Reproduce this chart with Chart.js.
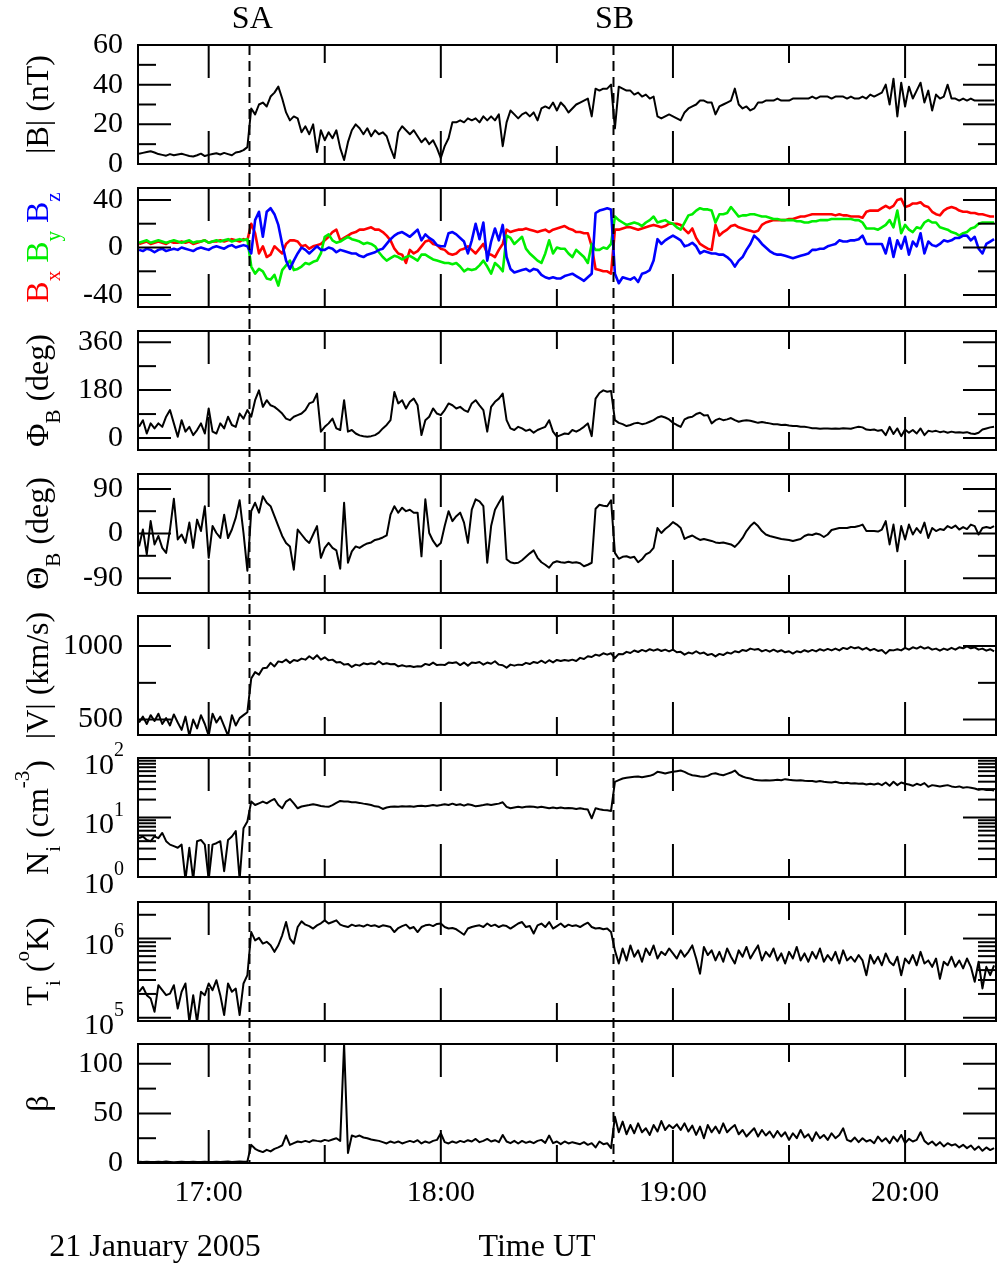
<!DOCTYPE html>
<html>
<head>
<meta charset="utf-8">
<script src="https://cdn.jsdelivr.net/npm/chart.js@4.4.0/dist/chart.umd.min.js"></script>
<style>
  html, body { margin: 0; padding: 0; background: #fff; }
  #wrap { position: relative; width: 997px; height: 1268px; overflow: hidden; background: #fff; }
  #wrap canvas { position: absolute; left: 0; }
</style>
</head>
<body>
<div id="wrap"></div>
<script>
// one sample per minute, first sample at 16:42 UT (minutes after midnight)
const firstMinute = 16 * 60 + 42;
const axisStart = 1001.73;
const axisEnd = 1223.5;
const shockA = 1030.5;   // SA, 17:10
const shockB = 1124.4;   // SB, 18:44
const hourTicks = [1020, 1080, 1140, 1200];
const halfHourTicks = [1050, 1110, 1170];

// |B| (nT)
const bMagnitude = [
  5.2, 5.6, 6.0, 6.4, 5.8, 5.0, 4.6, 4.2, 5.0, 4.4,
  4.8, 5.2, 4.6, 4.0, 3.8, 4.4, 5.2, 4.0, 4.6, 5.0,
  5.4, 4.8, 5.6, 5.0, 4.4, 5.8, 6.2, 7.0, 8.5, 28,
  25, 30, 31, 29, 34, 36, 39, 33, 26, 22,
  24, 23, 16, 19, 15, 20, 6, 17, 12, 16,
  13, 17, 8, 2, 11, 17, 20, 18, 15, 18,
  14, 17, 15, 16, 14, 8, 3, 16, 19, 17,
  15, 17, 14, 11, 13, 10, 12, 8, 3, 9,
  13, 21, 21, 22, 21, 23, 22, 23, 21, 24,
  22, 24, 22, 25, 9, 21, 27, 25, 23, 25,
  26, 24, 26, 22, 28, 29, 28, 31, 27, 31,
  29, 26, 28, 30, 31, 32, 33, 24, 38, 37,
  38, 38, 40, 18, 39, 38, 37, 37, 35, 36,
  34, 35, 33, 34, 24, 23, 24, 25, 24, 23,
  22, 26, 28, 29, 30, 32, 32, 31, 31, 25,
  29, 30, 31, 32, 38, 30, 28, 29, 27, 28,
  31, 31, 32, 32, 32, 33, 32, 32, 32, 33,
  33, 33, 33, 33, 34, 33, 34, 34, 34, 33,
  34, 34, 34, 33, 34, 33, 33, 34, 33, 35,
  34, 35, 36, 40, 30, 43, 24, 41, 29, 39,
  33, 37, 41, 31, 37, 27, 35, 33, 34, 40,
  33, 33, 32, 33, 32, 33, 32, 32, 32, 32,
  32, 32
];

// Bx, By, Bz (nT)
const bX = [
  3, 4, 5, 3, 4, 5, 4, 3, 5, 4,
  4, 5, 4, 5, 3, 4, 5, 6, 4, 5,
  5, 6, 5, 6, 7, 6, 5, 7, 6, 20,
  12, -5, 1, -8, -6, 1, -2, -5, 3, 6,
  6, 5, 1, 2, -1, 1, 2, 3, 6, 9,
  13, 15, 6, 8, 10, 12, 13, 15, 15, 16,
  17, 15, 15, 13, 10, 6, -1, -5, -6, -13,
  -2, -5, -3, 1, 5, 6, 3, 2, -1, -2,
  -5, -6, -5, -2, -1, 1, -2, -5, -1, 3,
  -5, -6, -8, -2, 3, 15, 13, 14, 15, 15,
  16, 15, 14, 13, 14, 15, 13, 15, 16, 17,
  18, 16, 15, 13, 13, 12, 12, 1, -18, -19,
  -20, -20, -22, 15, 15, 16, 17, 17, 16, 15,
  16, 17, 18, 19, 18, 17, 18, 20, 20, 20,
  19, 15, 12, 16, 8, 3, 1, -1, -2, 19,
  10, 13, 15, 18, 19, 17, 16, 15, 14, 13,
  14, 19, 21, 22, 23, 23, 23, 23, 24, 24,
  25, 26, 26, 27, 28, 28, 28, 28, 28, 28,
  27, 28, 27, 27, 26, 26, 26, 25, 30, 31,
  31, 31, 33, 35, 33, 35, 40, 41, 34, 35,
  37, 37, 38, 35, 34, 30, 28, 27, 31, 33,
  34, 33, 31, 30, 30, 29, 29, 28, 28, 27,
  26, 26
];
const bY = [
  4, 5, 6, 4, 5, 6, 5, 4, 5, 6,
  5, 4, 5, 6, 4, 5, 5, 6, 4, 5,
  6, 5, 6, 7, 5, 6, 7, 6, 7, -16,
  -22, -18, -20, -26, -27, -23, -32, -19, -15, -11,
  -19, -18, -16, -13, -14, -12, -11, -5, 9, 11,
  6, 4, 5, 7, 9, 7, 6, 5, 3, 4,
  3, 1, -4, -8, -11, -9, -7, -8, -10, -8,
  -7, -9, -11, -6, -6, -8, -10, -11, -12, -13,
  -13, -14, -13, -16, -20, -18, -19, -18, -15, -11,
  -16, -22, -13, -16, -20, 10, 8, 3, 6, 9,
  -1, -5, -8, -11, -13, -5, 6, -5, 0, -1,
  -1, -5, -8, -2, -5, -8, -13, 3, -2, -2,
  0, -1, 3, 26, 23, 21, 19, 20, 21, 20,
  18, 21, 23, 26, 21, 22, 23, 21, 20, 17,
  15, 21, 27, 28, 31, 33, 32, 32, 31, 21,
  28, 28, 29, 34, 30, 26, 27, 27, 28, 28,
  27, 26, 26, 25, 24, 24, 23, 23, 23, 23,
  22, 22, 21, 21, 22, 22, 23, 23, 23, 24,
  24, 24, 24, 24, 24, 23, 23, 21, 16, 16,
  16, 15, 17, 19, 23, 17, 31, 12, 19, 15,
  13, 17, 16, 21, 23, 21, 21, 17, 16, 15,
  13, 12, 10, 12, 13, 16, 17, 20, 21, 21,
  21, 21
];
const bZ = [
  -2, -3, -1, -2, -4, -2, -1, -3, -2, -1,
  -2, 0, -1, -2, -3, -1, 0, -1, -2, 0,
  1, 0, -1, 1, 2, 0, 1, 2, 1, -5,
  23, 30, 9, 30, 33, 28, 19, 3, -11, -18,
  -11, -5, 0, -2, -5, -2, 1, -2, -2, 0,
  -1, -4, -2, -3, -4, -5, -5, -7, -8, -6,
  -5, -4, -2, -1, 3, 7, 10, 12, 13, 11,
  9, 12, 15, 6, 11, 8, 6, 2, 1, 1,
  12, 13, 11, 8, 5, -5, 6, 20, 7, 21,
  -11, 5, 16, 6, 19, -8, -18, -21, -20, -19,
  -18, -20, -18, -19, -23, -25, -26, -25, -26, -26,
  -24, -23, -22, -24, -26, -28, -25, -22, 29, 31,
  32, 33, 32, -22, -30, -25, -26, -27, -25, -29,
  -22, -21, -19, -11, 7, 3, 6, 8, 10, 8,
  6, 1, 2, 4, 1, -5, -3, -4, -5, -5,
  -6, -6, -8, -11, -16, -11, -8, -2, 3, 10,
  7, 3, 0, -3, -5, -6, -6, -7, -8, -9,
  -8, -7, -6, -5, -2, -2, -1, -1, 1, 2,
  3, 6, 5, 5, 6, 6, 7, 10, 3, 3,
  3, 3, 3, -5, 8, -8, 6, -1, 9, -6,
  5, 1, 12, -5, 5, 2, 1, 3, 6, 5,
  6, 8, 8, 10, 10, 6, 9, -1, -5, 3,
  5, 7
];

// field azimuth and elevation (deg)
const phiB = [
  42, 67, 17, 55, 36, 55, 42, 80, 105, 55,
  5, 67, 24, 42, 11, 30, 55, 17, 111, 24,
  17, 55, 36, 80, 49, 42, 92, 73, 105, 80,
  142, 179, 117, 142, 123, 117, 105, 92, 73, 67,
  80, 86, 92, 105, 130, 136, 167, 24, 42, 55,
  73, 36, 30, 142, 24, 30, 17, 10, 7, 5,
  7, 11, 20, 36, 49, 67, 173, 130, 142, 111,
  136, 148, 123, 11, 67, 80, 111, 92, 86, 105,
  130, 123, 111, 117, 105, 98, 130, 142, 123, 105,
  24, 117, 136, 148, 167, 67, 36, 30, 42, 36,
  27, 32, 20, 30, 36, 42, 67, 24, 5, 11,
  17, 15, 30, 24, 32, 42, 55, 7, 148, 169,
  179, 174, 177, 67, 57, 52, 45, 49, 55, 57,
  52, 55, 61, 67, 77, 82, 77, 70, 57, 49,
  42, 70, 77, 80, 90, 95, 85, 86, 55, 67,
  73, 67, 70, 75, 67, 61, 65, 67, 65, 61,
  57, 60, 57, 55, 52, 52, 49, 50, 47, 45,
  45, 42, 42, 40, 37, 37, 35, 36, 36, 35,
  36, 35, 37, 36, 35, 39, 42, 40, 32, 30,
  32, 27, 30, 11, 42, 15, 36, 7, 32, 20,
  30, 17, 36, 11, 27, 24, 27, 22, 25, 20,
  24, 21, 22, 20, 22, 17, 15, 20, 32, 36,
  40, 42
];
const thetaB = [
  -26, 8, -42, 25, -22, -5, -29, -39, 8, 70,
  -12, -2, -19, 22, -29, 28, 5, 55, -49, 15,
  1, -9, 38, -9, 8, 32, 67, 1, -75, 45,
  62, 42, 75, 62, 55, 35, 15, -5, -19, -26,
  -73, 8, -2, -12, -19, -2, 15, -49, -29, -19,
  -29, -34, -71, 62, -59, -36, -26, -29, -24, -20,
  -18, -13, -11, -8, -4, 38, 55, 42, 52, 45,
  48, 42, 42, -46, 69, 1, -15, -26, -19, 15,
  45, 25, 35, 42, 22, -19, 48, 69, 65, 55,
  -59, 15, 48, 62, 75, -52, -58, -60, -59, -54,
  -47, -40, -34, -49, -58, -63, -69, -59, -56, -58,
  -59, -57, -59, -58, -60, -66, -63, -59, 50, 58,
  56, 55, 67, -39, -51, -47, -46, -49, -47, -58,
  -52, -42, -38, -29, 11, 1, 9, 15, 23, 18,
  11, -11, -7, -4, -9, -13, -11, -13, -15, -18,
  -19, -18, -20, -22, -27, -19, -9, 5, 15, 22,
  15, 5, -2, -5, -7, -9, -11, -12, -13, -15,
  -13, -11, -5, -2, -3, 0, -2, -7, -2, 7,
  9, 11, 11, 11, 13, 13, 15, 18, 5, 5,
  5, 4, 8, 25, -22, 18, -36, 15, -12, 18,
  -2, 11, 1, 22, -9, 11, 5, 9, 7, 15,
  11, 16, 8, 13, 9, 18, 15, -2, 11, 13,
  11, 15
];

// |V| (km/s)
const speed = [
  480, 520, 470, 530, 490, 540, 470, 510, 460, 535,
  480, 430, 520, 390, 500, 440, 530, 470, 390, 540,
  480, 520, 455, 390, 530, 460, 510, 530, 550, 780,
  823, 806, 850, 852, 886, 862, 896, 890, 908, 886,
  906, 899, 915, 908, 931, 912, 938, 908, 924, 903,
  908, 889, 892, 874, 879, 858, 874, 867, 883, 876,
  883, 876, 897, 876, 883, 876, 879, 862, 870, 862,
  865, 858, 863, 862, 879, 871, 888, 871, 874, 871,
  888, 885, 890, 871, 888, 867, 888, 885, 892, 874,
  888, 880, 897, 874, 870, 853, 874, 867, 874, 871,
  886, 878, 892, 885, 901, 885, 904, 889, 906, 899,
  906, 901, 908, 899, 920, 912, 931, 926, 942, 935,
  951, 942, 951, 919, 947, 944, 961, 953, 970, 960,
  974, 964, 979, 969, 979, 967, 976, 964, 976, 958,
  961, 942, 956, 949, 965, 949, 956, 939, 947, 930,
  947, 939, 956, 949, 965, 958, 974, 967, 983, 976,
  981, 964, 974, 962, 976, 962, 972, 958, 965, 949,
  965, 958, 972, 962, 974, 964, 979, 969, 981, 971,
  983, 971, 988, 980, 995, 985, 992, 976, 988, 971,
  981, 967, 974, 949, 974, 971, 979, 971, 988, 976,
  992, 983, 997, 983, 992, 976, 983, 969, 983, 974,
  988, 976, 992, 985, 999, 985, 992, 976, 983, 969,
  979, 964
];

// Ni (cm^-3)
const density = [
  4.5, 4.8, 4.2, 4.0, 4.8, 4.5, 5.5, 4.0, 3.5, 3.3,
  3.1, 3.5, 0.9, 3.1, 0.9, 4.0, 4.2, 3.5, 0.9, 3.5,
  3.7, 4.0, 1.25, 4.2, 4.8, 5.9, 0.9, 6.6, 8.6, 18.5,
  16.2, 17.3, 18.5, 17.3, 19, 20.5, 16.2, 14.3, 18.5, 20.5,
  17.3, 14.3, 15.3, 15.8, 16.2, 16.7, 16.2, 15.6, 15.3, 15.1,
  16.2, 17.6, 19, 18.5, 18.5, 18, 18, 17.6, 17.1, 16.7,
  16.2, 15.4, 15.1, 13.9, 14.7, 15.1, 15.3, 15.1, 15.4, 15.3,
  15.4, 15.1, 15.6, 15.8, 15.4, 15.8, 16.2, 15.8, 16.2, 16.7,
  16.2, 17.1, 16.2, 16.7, 15.8, 16.7, 16.2, 15.4, 15.8, 16.2,
  16.7, 16.2, 16.7, 17.1, 18, 15.1, 14.3, 14.7, 15.1, 14.7,
  15.1, 15.3, 15.1, 14.7, 15.1, 14.7, 14.3, 14.7, 14.3, 14.7,
  14.3, 14.5, 14.3, 13.9, 14.3, 13.9, 13.6, 9.7, 14.3, 13.8,
  13.4, 13.2, 12.9, 39.8, 42.4, 45.2, 46.4, 47.6, 48.3, 48.9,
  47.6, 48.9, 50.1, 52.7, 58.5, 57, 54.8, 57, 58.5, 60,
  61.6, 58.5, 54.1, 51.4, 50.1, 48.9, 48.3, 50.1, 54.1, 55.4,
  52.7, 51.4, 54.1, 57, 61.6, 52.7, 48.9, 46.4, 45.2, 43,
  42.4, 41.9, 42.4, 41.9, 42.4, 43, 42.4, 44.1, 43, 42.4,
  41.9, 42.4, 41.4, 40.9, 40.9, 39.8, 40.9, 39.8, 39.3, 38.8,
  39.8, 38.3, 37.8, 38.3, 37.4, 37.8, 36.9, 37.4, 35.9, 36.9,
  35.9, 37.4, 35, 38.8, 34.1, 39.8, 35, 38.8, 36.9, 35.9,
  34.1, 36.9, 35, 37.8, 32.8, 35, 34.1, 33.3, 34.1, 35,
  33.3, 32.4, 33.3, 31.6, 32.4, 31.6, 30.8, 29.3, 30, 29,
  29.3, 28.5
];

// Ti (K)
const temperature = [
  2.13e5, 2.45e5, 1.93e5, 1.75e5, 1.19e5, 2.58e5, 2.23e5, 1.93e5, 2.02e5, 2.58e5,
  1.31e5, 2.13e5, 2.71e5, 0.88e5, 1.93e5, 0.88e5, 2.13e5, 1.93e5, 2.71e5, 2.23e5,
  2.98e5, 1.93e5, 1.08e5, 2.71e5, 2.13e5, 2.34e5, 1.08e5, 2.71e5, 3.45e5, 1.21e6,
  9.5e5, 1.02e6, 8.65e5, 9.1e5, 8.24e5, 6.8e5, 8.24e5, 1.1e6, 1.62e6, 1.0e6,
  8.65e5, 1.4e6, 1.65e6, 1.5e6, 1.44e6, 1.34e6, 1.47e6, 1.56e6, 1.7e6, 1.55e6,
  1.62e6, 1.7e6, 1.5e6, 1.44e6, 1.4e6, 1.5e6, 1.44e6, 1.47e6, 1.42e6, 1.5e6,
  1.44e6, 1.47e6, 1.4e6, 1.47e6, 1.44e6, 1.4e6, 1.21e6, 1.36e6, 1.44e6, 1.5e6,
  1.34e6, 1.4e6, 1.21e6, 1.4e6, 1.47e6, 1.5e6, 1.44e6, 1.53e6, 1.55e6, 1.4e6,
  1.34e6, 1.36e6, 1.31e6, 1.21e6, 1.12e6, 1.34e6, 1.4e6, 1.44e6, 1.47e6, 1.4e6,
  1.55e6, 1.44e6, 1.5e6, 1.4e6, 1.47e6, 1.44e6, 1.34e6, 1.44e6, 1.55e6, 1.62e6,
  1.4e6, 1.44e6, 1.16e6, 1.47e6, 1.55e6, 1.4e6, 1.62e6, 1.34e6, 1.44e6, 1.55e6,
  1.4e6, 1.5e6, 1.44e6, 1.47e6, 1.4e6, 1.5e6, 1.59e6, 1.4e6, 1.34e6, 1.36e6,
  1.31e6, 1.34e6, 1.21e6, 7.1e5, 4.85e5, 7.5e5, 5.3e5, 8.2e5, 5.9e5, 7.1e5,
  5.1e5, 7.5e5, 6.2e5, 8.2e5, 5.6e5, 6.8e5, 6.2e5, 7.5e5, 6.5e5, 5.6e5,
  7.1e5, 5.9e5, 6.8e5, 8.2e5, 5.6e5, 3.6e5, 7.85e5, 6.2e5, 7.1e5, 5.3e5,
  6.8e5, 5.1e5, 7.5e5, 5.9e5, 4.85e5, 7.1e5, 5.9e5, 7.85e5, 5.6e5, 6.8e5,
  8.2e5, 5.3e5, 6.8e5, 5.9e5, 7.5e5, 5.3e5, 6.5e5, 4.85e5, 6.8e5, 5.6e5,
  7.85e5, 5.3e5, 6.5e5, 5.1e5, 6.8e5, 5.6e5, 7.5e5, 5.1e5, 6.2e5, 5.3e5,
  6.8e5, 4.85e5, 7.1e5, 5.3e5, 5.9e5, 5.1e5, 6.2e5, 5.3e5, 3.45e5, 6.2e5,
  4.85e5, 5.9e5, 4.6e5, 6.5e5, 5.1e5, 4.6e5, 5.9e5, 3.45e5, 5.6e5, 4.85e5,
  6.2e5, 4.6e5, 6.8e5, 4.85e5, 5.3e5, 4.4e5, 5.6e5, 3.1e5, 5.1e5, 4.6e5,
  5.9e5, 4.4e5, 5.3e5, 4.2e5, 5.6e5, 4.4e5, 2.85e5, 5.1e5, 2.35e5, 4.4e5,
  3.45e5, 4.6e5
];

// plasma beta
const beta = [
  1.2, 1.0, 1.3, 1.1, 0.9, 1.2, 1.0, 1.4, 1.1, 0.8,
  1.0, 1.2, 0.9, 1.1, 1.3, 1.0, 0.9, 1.2, 1.0, 1.1,
  1.3, 1.0, 1.2, 1.4, 1.1, 1.3, 1.5, 1.2, 1.6, 18.3,
  14.3, 12.3, 11, 13.3, 11.7, 14.3, 15.7, 17.7, 27.7, 18.3,
  20, 21.7, 21, 22.3, 21, 23, 22.3, 21.7, 23.3, 22.3,
  23.7, 25, 22.3, 120, 10, 27.7, 26.3, 27.7, 25.7, 25,
  23.7, 23, 22.3, 21, 19.7, 21.7, 20.3, 21.7, 19.7, 21,
  22.3, 21, 23, 19.7, 21.7, 20.3, 22.3, 23.3, 30, 21,
  19.7, 21.7, 20.3, 22.3, 21, 23, 21.7, 24.3, 21, 22.3,
  24.3, 21.7, 23, 21, 28.3, 21.7, 20, 22.3, 19.7, 22.3,
  20.3, 21.7, 20, 22.3, 23.3, 20.3, 27.7, 20, 21.7, 19,
  21.7, 19.7, 21, 20, 19, 21, 18.3, 20, 15.7, 21.7,
  19, 20, 15, 46.7, 31, 41.7, 29, 38.3, 30, 40,
  31, 35, 28.3, 38.3, 31.7, 42.3, 33.3, 38.3, 35, 39,
  33.3, 40, 31.7, 37.7, 28.3, 36.7, 25, 38.3, 31, 36.7,
  30, 40, 31, 35, 38.3, 29, 33.3, 26.7, 31, 35,
  26.7, 33.3, 27.7, 31.7, 25.7, 32.3, 26.7, 31, 23.3, 30,
  25, 33.3, 25.7, 29, 22.3, 31, 25, 28.3, 23.3, 30,
  25, 28.3, 35, 23.3, 21.7, 25.7, 21, 25, 21.7, 23.3,
  20, 26.7, 21.7, 25, 20, 26.7, 21.7, 28.3, 20, 24.3,
  21.7, 23.3, 31, 22.3, 19, 21.7, 17.7, 21, 16.7, 20,
  17.7, 19, 15.7, 18.3, 15, 17.7, 13.3, 16.7, 12.3, 15.7,
  13, 15
];

const RED = '#ff0000', GREEN = '#00ee00', BLUE = '#0000ff', BLACK = '#000000';
const FONT = '"Liberation Serif", "Times New Roman", serif';

const panels = [
  { series: [{ values: bMagnitude, color: BLACK }], min: 0, max: 60,
    major: [0, 20, 40, 60], minor: [10, 30, 50],
    title: [{ t: '|B| (nT)' }] },
  { series: [{ values: bX, color: RED }, { values: bY, color: GREEN }, { values: bZ, color: BLUE }],
    min: -50, max: 50, major: [-40, 0, 40], minor: [-20, 20],
    title: [{ t: 'B', c: RED }, { t: 'x', sub: true, c: RED }, { t: ' B', c: GREEN }, { t: 'y', sub: true, c: GREEN },
            { t: ' B', c: BLUE }, { t: 'z', sub: true, c: BLUE }] },
  { series: [{ values: phiB, color: BLACK }], min: -45, max: 402,
    major: [0, 180, 360], minor: [90, 270],
    title: [{ t: 'Φ' }, { t: 'B', sub: true }, { t: ' (deg)' }] },
  { series: [{ values: thetaB, color: BLACK }], min: -120, max: 120,
    major: [-90, 0, 90], minor: [-45, 45],
    title: [{ t: 'Θ' }, { t: 'B', sub: true }, { t: ' (deg)' }] },
  { series: [{ values: speed, color: BLACK }], min: 395, max: 1205,
    major: [500, 1000], minor: [750],
    title: [{ t: '|V| (km/s)' }] },
  { series: [{ values: density, color: BLACK }], log: true, min: 1, max: 100,
    major: [1, 10, 100], minor: [2, 3, 4, 5, 6, 7, 8, 9, 20, 30, 40, 50, 60, 70, 80, 90],
    logLabels: [[1, '0'], [10, '1'], [100, '2']],
    title: [{ t: 'N' }, { t: 'i', sub: true }, { t: ' (cm' }, { t: '-3', sup: true }, { t: ')' }] },
  { series: [{ values: temperature, color: BLACK }], log: true, min: 0.91e5, max: 2.9e6,
    major: [1e5, 1e6], minor: [2e5, 3e5, 4e5, 5e5, 6e5, 7e5, 8e5, 9e5, 2e6],
    logLabels: [[1e5, '5'], [1e6, '6']],
    title: [{ t: 'T' }, { t: 'i', sub: true }, { t: ' (' }, { t: 'o', sup: true }, { t: 'K)' }] },
  { series: [{ values: beta, color: BLACK }], min: 0, max: 120,
    major: [0, 50, 100], minor: [25, 75],
    title: [{ t: 'β' }] }
];

const panelTops = [45, 188, 331, 474, 616, 758, 902, 1044];
const panelHeight = 119;

Chart.defaults.font.family = FONT;
Chart.defaults.color = '#000';

function richItems(ctx, parts, size) {
  return parts.map(p => {
    const s = (p.sub || p.sup) ? Math.round(size * 0.65) : size;
    ctx.font = s + 'px ' + FONT;
    return { p: p, s: s, w: ctx.measureText(p.t).width };
  });
}

function drawRich(ctx, parts, size, x, y) {
  const items = richItems(ctx, parts, size);
  let cx = x;
  items.forEach(it => {
    ctx.font = it.s + 'px ' + FONT;
    ctx.fillStyle = it.p.c || '#000';
    const dy = it.p.sub ? size * 0.36 : (it.p.sup ? -size * 0.6 : 0);
    ctx.fillText(it.p.t, cx, y + dy);
    cx += it.w;
  });
  return cx - x;
}

function richWidth(ctx, parts, size) {
  return richItems(ctx, parts, size).reduce((s, it) => s + it.w, 0);
}

function makeDecor(panel, index, canvasTop) {
  const isLast = index === panels.length - 1;
  return {
    id: 'decor' + index,
    afterDatasetsDraw(chart) {
      const ctx = chart.ctx;
      const area = chart.chartArea;
      const xs = chart.scales.x;
      const ys = chart.scales.y;
      const seg = (x1, y1, x2, y2) => { ctx.beginPath(); ctx.moveTo(x1, y1); ctx.lineTo(x2, y2); ctx.stroke(); };
      ctx.save();
      ctx.strokeStyle = '#000';
      ctx.lineWidth = 2;
      hourTicks.forEach(t => {
        const px = xs.getPixelForValue(t);
        seg(px, area.top, px, area.top + 33);
        seg(px, area.bottom, px, area.bottom - 33);
      });
      halfHourTicks.forEach(t => {
        const px = xs.getPixelForValue(t);
        seg(px, area.top, px, area.top + 18);
        seg(px, area.bottom, px, area.bottom - 18);
      });
      panel.major.forEach(v => {
        const py = ys.getPixelForValue(v);
        seg(area.left, py, area.left + 33, py);
        seg(area.right, py, area.right - 33, py);
      });
      panel.minor.forEach(v => {
        const py = ys.getPixelForValue(v);
        seg(area.left, py, area.left + 18, py);
        seg(area.right, py, area.right - 18, py);
      });
      ctx.strokeRect(area.left, area.top, area.right - area.left, area.bottom - area.top);

      // shock markers
      ctx.setLineDash([10, 6]);
      const y0 = index === 0 ? area.top : area.top - 12;
      const y1 = isLast ? area.bottom : area.bottom + 12;
      [shockA, shockB].forEach(t => {
        const px = Math.round(xs.getPixelForValue(t)) + 0.5;
        seg(px, y0, px, y1);
      });
      ctx.restore();
    },
    afterDraw(chart) {
      const ctx = chart.ctx;
      const area = chart.chartArea;
      const xs = chart.scales.x;
      const ys = chart.scales.y;
      ctx.save();
      ctx.textAlign = 'left';
      ctx.textBaseline = 'alphabetic';

      // rotated axis title
      ctx.save();
      ctx.translate(48, (area.top + area.bottom) / 2);
      ctx.rotate(-Math.PI / 2);
      const tw = richWidth(ctx, panel.title, 32);
      drawRich(ctx, panel.title, 32, -tw / 2, 0);
      ctx.restore();

      // 10^n labels for log axes
      if (panel.logLabels) {
        panel.logLabels.forEach(([v, exp]) => {
          const py = ys.getPixelForValue(v);
          ctx.font = '30px ' + FONT;
          const w10 = ctx.measureText('10').width;
          ctx.font = '20px ' + FONT;
          const wExp = ctx.measureText(exp).width;
          const x10 = 124 - wExp - w10;
          ctx.textBaseline = 'middle';
          ctx.fillStyle = '#000';
          ctx.font = '30px ' + FONT;
          ctx.fillText('10', x10, py + 8);
          ctx.font = '20px ' + FONT;
          ctx.fillText(exp, x10 + w10, py - 7);
        });
      }

      ctx.textBaseline = 'middle';
      ctx.textAlign = 'center';
      ctx.fillStyle = '#000';
      ctx.font = '32px ' + FONT;
      if (index === 0) {
        ctx.fillText('SA', xs.getPixelForValue(shockA) + 3, 20);
        ctx.fillText('SB', xs.getPixelForValue(shockB) + 2, 20);
      }
      if (isLast) {
        ctx.fillText('21 January 2005', 155, 1248 - canvasTop);
        ctx.fillText('Time UT', 537, 1248 - canvasTop);
      }
      ctx.restore();
    }
  };
}

const wrap = document.getElementById('wrap');

panels.forEach((panel, i) => {
  const isLast = i === panels.length - 1;
  const top = panelTops[i];
  const bottom = top + panelHeight;
  // canvases overlap in the gaps; generous margins keep tick-label padding from shrinking the plot
  const canvasTop = i === 0 ? 0 : top - 40;
  const canvasBottom = isLast ? 1268 : bottom + 40;
  const canvas = document.createElement('canvas');
  canvas.width = 997;
  canvas.height = canvasBottom - canvasTop;
  canvas.style.top = canvasTop + 'px';
  canvas.style.width = '997px';
  canvas.style.height = (canvasBottom - canvasTop) + 'px';
  wrap.appendChild(canvas);

  const xAxisHeight = isLast ? 50 : 0;
  const padBottom = canvasBottom - bottom - xAxisHeight;

  const datasets = panel.series.map((s, k) => ({
    data: s.values.map((v, j) => ({ x: firstMinute + j, y: v })),
    borderColor: s.color,
    borderWidth: s.color === BLACK ? 2 : 2.6,
    pointRadius: 0,
    tension: 0,
    borderJoinStyle: 'round',
    order: panel.series.length - k
  }));

  new Chart(canvas, {
    type: 'line',
    data: { datasets: datasets },
    options: {
      responsive: false,
      animation: false,
      devicePixelRatio: 1,
      layout: { padding: { top: top - canvasTop, bottom: padBottom, left: 0, right: 1 } },
      plugins: { legend: { display: false }, tooltip: { enabled: false } },
      scales: {
        x: {
          type: 'linear',
          min: axisStart,
          max: axisEnd,
          display: isLast,
          grid: { display: false, drawTicks: false },
          border: { display: false },
          ticks: {
            font: { size: 30, family: FONT },
            color: '#000',
            padding: 12,
            maxRotation: 0,
            autoSkip: false,
            callback: v => Math.floor(v / 60) + ':' + String(v % 60).padStart(2, '0')
          },
          afterBuildTicks: s => { s.ticks = hourTicks.map(v => ({ value: v })); },
          afterFit: s => { s.height = xAxisHeight; }
        },
        y: {
          type: panel.log ? 'logarithmic' : 'linear',
          min: panel.min,
          max: panel.max,
          grid: { display: false, drawTicks: false },
          border: { display: false },
          ticks: {
            display: !panel.log,
            font: { size: 30, family: FONT },
            color: '#000',
            padding: 15,
            autoSkip: false,
            callback: v => String(v)
          },
          afterBuildTicks: s => { s.ticks = panel.major.map(v => ({ value: v })); },
          afterFit: s => { s.width = 138; }
        }
      }
    },
    plugins: [makeDecor(panel, i, canvasTop)]
  });
});
</script>
</body>
</html>
